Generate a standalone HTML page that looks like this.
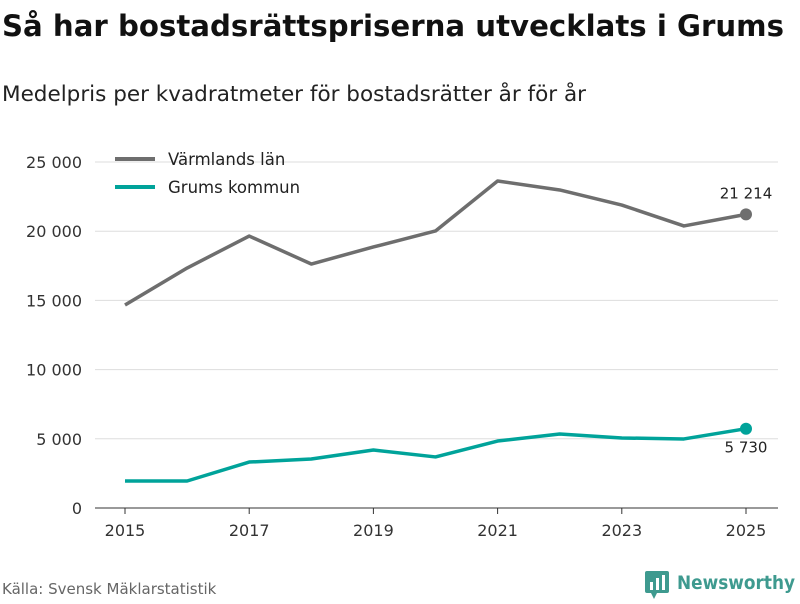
<!DOCTYPE html>
<html><head><meta charset="utf-8"><style>
body{margin:0;background:#fff;width:800px;height:600px;overflow:hidden;font-family:"DejaVu Sans",sans-serif}
</style></head><body>
<svg width="800" height="600" xmlns="http://www.w3.org/2000/svg" font-family="DejaVu Sans, sans-serif">
<text x="2" y="36" font-size="29" font-weight="bold" fill="#111" textLength="782" lengthAdjust="spacingAndGlyphs">Så har bostadsrättspriserna utvecklats i Grums</text>
<text x="2" y="101" font-size="21" fill="#222" textLength="584" lengthAdjust="spacingAndGlyphs">Medelpris per kvadratmeter för bostadsrätter år för år</text>
<g id="grid"></g>
<g id="yticks"></g>
<g id="xticks"></g>
<g id="series"></g>
<g>
<line x1="115" y1="159" x2="155" y2="159" stroke="#6e6e6e" stroke-width="4"/>
<text x="168" y="165" font-size="16.5" fill="#222">Värmlands län</text>
<line x1="115" y1="187" x2="155" y2="187" stroke="#00a39a" stroke-width="4"/>
<text x="168" y="193" font-size="16.5" fill="#222">Grums kommun</text>
</g>
<text x="2" y="594" font-size="15" fill="#666">Källa: Svensk Mäklarstatistik</text>
<g>
<rect x="645" y="571" width="24" height="22" rx="2" fill="#3e9a8f"/>
<rect x="650" y="582" width="3" height="8" fill="#fff"/><rect x="656" y="578" width="3" height="12" fill="#fff"/><rect x="662" y="575" width="3" height="15" fill="#fff"/>
<polygon points="651,593 657,593 654,599" fill="#3e9a8f"/>
<text x="677" y="589" font-size="19" font-weight="bold" fill="#3e9a8f" textLength="118" lengthAdjust="spacingAndGlyphs">Newsworthy</text>
</g>
</svg>
<script>
const years=[2015,2016,2017,2018,2019,2020,2021,2022,2023,2024,2025];
const varmland=[14670,17340,19650,17630,18860,20015,23630,22980,21890,20380,21214];
const grums=[1950,1950,3320,3540,4190,3690,4840,5350,5060,4990,5730];
const yTicks=[0,5000,10000,15000,20000,25000];
const xTickYears=[2015,2017,2019,2021,2023,2025];
const ns="http://www.w3.org/2000/svg";
const X=v=>125+(v-2015)*(746-125)/10;
const Y=v=>508-v*(508-162)/25000;
const fmt=v=>String(v).replace(/\B(?=(\d{3})+(?!\d))/g,"\u00a0");
function mk(t,a,p){const e=document.createElementNS(ns,t);for(const k in a)e.setAttribute(k,a[k]);p.appendChild(e);return e;}
const grid=document.getElementById('grid'),yt=document.getElementById('yticks'),xt=document.getElementById('xticks'),se=document.getElementById('series');
yTicks.forEach(v=>{
 const l=mk('line',{x1:95,x2:778,y1:Y(v),y2:Y(v),stroke:v===0?'#333':'#ddd','stroke-width':1},grid);
 
 
 const t=mk('text',{x:82,y:Y(v)+6,'text-anchor':'end','font-size':16,fill:'#333'},yt);
 t.textContent=fmt(v);
 
 
});
xTickYears.forEach(v=>{
 const l=mk('line',{x1:X(v),x2:X(v),y1:508,y2:514,stroke:'#333'},xt);
 
 
 const t=mk('text',{x:X(v),y:536,'text-anchor':'middle','font-size':16,fill:'#333'},xt);
 t.textContent=v;
 
 
});
function line(vals,color,name,labelDy){
 const p=mk('polyline',{points:vals.map((v,i)=>X(years[i])+','+Y(v)).join(' '),fill:'none',stroke:color,'stroke-width':3.5,'stroke-linejoin':'round'},se);
 
 
 const n=vals.length-1;
 const c=mk('circle',{cx:X(years[n]),cy:Y(vals[n]),r:6,fill:color},se);
 
 
 const t=mk('text',{x:X(years[n]),y:Y(vals[n])+labelDy,'text-anchor':'middle','font-size':15,fill:'#222'},se);
 t.textContent=fmt(vals[n]);
 
 
}
line(varmland,'#6e6e6e','varmland',-16);
line(grums,'#00a39a','grums',24);
</script>
</body></html>
